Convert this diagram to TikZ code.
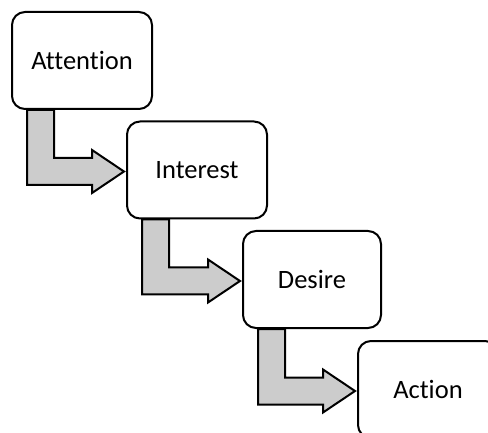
\documentclass[tikz,border=0pt]{standalone}
\usepackage{fontspec}
\setmainfont{Carlito}[RawFeature={-liga;-clig}]
\usetikzlibrary{calc}
\pgfdeclarelayer{background}
\pgfsetlayers{background,main}
\tikzset{
  stagebox/.style={draw=black, line width=2pt, rounded corners=13pt, fill=white,
    minimum width=140pt, minimum height=97pt, inner sep=0pt,
    font=\fontsize{26.5}{31}\selectfont},
  bentarrow/.style={draw=black, line width=2pt, fill=black!20, line join=miter}
}
\newcommand\flowarrow[2]{%
  \path[bentarrow] let \p1=($(#1.south west)+(16,0)$), \p2=($(#2.west)+(-2,1.5)$) in
    (\x1,\y1) -- (\x1+27pt,\y1) -- (\x1+27pt,\y2+13.5pt) -- (\x2-32pt,\y2+13.5pt)
    -- (\x2-32pt,\y2+21.5pt) -- (\x2,\y2) -- (\x2-32pt,\y2-21.5pt)
    -- (\x2-32pt,\y2-13.5pt) -- (\x1,\y2-13.5pt) -- cycle;}
\begin{document}
\begin{tikzpicture}[x=1pt,y=-1pt]
\useasboundingbox (0,0) rectangle (488,433);
\clip (0,0) rectangle (488,433);
\node[stagebox] (att) at (82,60.5) {Attention};
\node[stagebox] (int) at (197,170) {Interest};
\node[stagebox, minimum width=138pt] (des) at (312,279.5) {Desire};
\node[stagebox] (act) at (428,389.5) {Action};
\begin{pgfonlayer}{background}
\fill[white] (0,0) rectangle (488,433);
\flowarrow{att}{int}
\flowarrow{int}{des}
\flowarrow{des}{act}
\end{pgfonlayer}
\end{tikzpicture}
\end{document}
